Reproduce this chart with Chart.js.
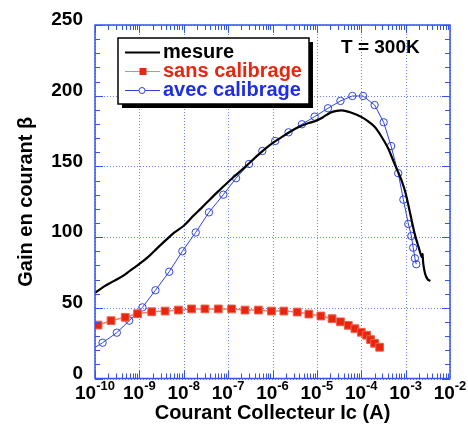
<!DOCTYPE html>
<html>
<head>
<meta charset="utf-8">
<script src="https://cdn.jsdelivr.net/npm/chart.js@4"></script>
<style>
  html, body { margin:0; padding:0; background:#fff; }
  #wrap { width:468px; height:425px; position:relative; }
</style>
</head>
<body>
<div id="wrap"><canvas id="c" width="468" height="425"></canvas></div>
<script>
// ---- data ----
const xTickExponents = [-10, -9, -8, -7, -6, -5, -4, -3, -2];
const yTicks = [0, 50, 100, 150, 200, 250];

const mesureI = [1.0e-10, 1.58e-10, 2.5e-10, 4.0e-10, 6.3e-10, 1.0e-9, 1.58e-9, 2.5e-9, 4.0e-9, 6.3e-9,
  1.0e-8, 1.58e-8, 2.5e-8, 4.0e-8, 6.3e-8, 1.0e-7, 1.58e-7, 2.5e-7, 4.0e-7, 6.3e-7,
  1.0e-6, 1.58e-6, 2.5e-6, 4.0e-6, 6.3e-6, 1.0e-5, 1.41e-5, 2.0e-5, 2.8e-5, 4.0e-5,
  5.6e-5, 7.9e-5, 1.0e-4, 1.41e-4, 2.0e-4, 2.8e-4, 4.0e-4, 5.6e-4, 7.9e-4, 1.0e-3,
  1.26e-3, 1.58e-3, 2.0e-3, 2.3e-3, 2.4e-3, 2.5e-3, 2.75e-3, 3.16e-3, 3.6e-3];
const mesureGain = [60.5, 65, 68.5, 72, 76.5, 81, 86, 92, 98, 103.5,
  108, 114.5, 120.5, 127, 133, 139, 144.5, 150, 156, 161.5,
  166.5, 170.5, 174.5, 178, 180.5, 182.5, 185, 188, 189.3, 189.5,
  188.3, 186.5, 185, 182, 178, 171.5, 163, 152, 141, 131,
  117, 103, 92, 86, 88, 81, 74, 70, 69];

const sansI = [1.17e-10, 2.3e-10, 4.8e-10, 9.1e-10, 1.9e-9, 3.8e-9, 7.6e-9, 1.5e-8, 3.0e-8, 6.0e-8,
  1.2e-7, 2.4e-7, 4.8e-7, 9.5e-7, 1.8e-6, 3.6e-6, 6.6e-6, 1.23e-5, 2.2e-5, 3.4e-5,
  5.1e-5, 7.2e-5, 1.0e-4, 1.32e-4, 1.62e-4, 2.0e-4, 2.6e-4];
const sansGain = [37.8, 40.9, 43.3, 45.8, 47.2, 47.7, 48.4, 49.2, 49.2, 49.2,
  49.2, 48.4, 48.4, 47.7, 47.7, 47.0, 45.6, 44.2, 42.3, 40.1,
  37.6, 35.2, 32.7, 30.6, 27.5, 24.9, 22.1];

const avecI = [1.0e-10, 1.48e-10, 3.1e-10, 5.9e-10, 1.17e-9, 2.3e-9, 4.7e-9, 9.3e-9, 1.86e-8, 3.7e-8,
  7.8e-8, 1.51e-7, 2.95e-7, 5.9e-7, 1.15e-6, 2.3e-6, 4.6e-6, 8.9e-6, 1.78e-5, 3.4e-5,
  6.3e-5, 1.1e-4, 2.0e-4, 3.2e-4, 4.7e-4, 6.8e-4, 8.9e-4, 1.15e-3, 1.35e-3, 1.48e-3,
  1.62e-3, 1.74e-3];
const avecGain = [22, 25.3, 32.4, 40.9, 50.3, 62.4, 75.5, 90, 103.3, 117.5,
  130, 141.7, 151.7, 160.9, 168, 174.1, 179.8, 185.2, 191.1, 196.3,
  199.8, 199.8, 193.4, 181.2, 164.4, 145.2, 126.5, 109.3, 100.8, 92.5,
  85.0, 80.8];

const seriesLabels = ['mesure', 'sans calibrage', 'avec calibrage'];
const annotationText = 'T = 300K';

// ---- styles ----
const FONT = '"Liberation Sans", Arial, Helvetica, sans-serif';
const BLUE_AXIS = '#3553ee';
const BLUE_GRID = '#6a84f2';
const RED = '#e8260f';
const RED_LINE = '#f2806c';
const BLUE = '#2f42e6';
const BLUE_TEXT = '#1d2fe0';

const zip = (xs, ys) => xs.map((x, i) => ({ x, y: ys[i] }));

const framePlugin = {
  id: 'frame',
  beforeDatasetsDraw(chart) {
    const { ctx, chartArea: a, scales: { x, y } } = chart;
    ctx.save();
    ctx.strokeStyle = BLUE_GRID;
    ctx.lineWidth = 1;
    ctx.setLineDash([1, 2]);
    xTickExponents.forEach(e => {
      const px = Math.round(x.getPixelForValue(Math.pow(10, e))) + 0.5;
      ctx.beginPath(); ctx.moveTo(px, a.top); ctx.lineTo(px, a.bottom); ctx.stroke();
    });
    yTicks.forEach(v => {
      const py = Math.round(y.getPixelForValue(v)) + 0.5;
      ctx.beginPath(); ctx.moveTo(a.left, py); ctx.lineTo(a.right, py); ctx.stroke();
    });
    ctx.restore();
  },
  afterDraw(chart) {
    const { ctx, chartArea: a, scales: { x, y } } = chart;
    ctx.save();
    // border
    ctx.strokeStyle = BLUE_AXIS;
    ctx.lineWidth = 1.5;
    ctx.strokeRect(a.left, a.top, a.right - a.left, a.bottom - a.top);
    // ticks
    ctx.lineWidth = 1;
    const minor = 5, major = 8;
    for (let e = -10; e < -2; e++) {
      for (let k = 1; k <= 9; k++) {
        const px = Math.round(x.getPixelForValue(k * Math.pow(10, e))) + 0.5;
        const len = k === 1 ? major : minor;
        ctx.beginPath();
        ctx.moveTo(px, a.bottom); ctx.lineTo(px, a.bottom - len);
        ctx.moveTo(px, a.top); ctx.lineTo(px, a.top + len);
        ctx.stroke();
      }
    }
    for (let v = 0; v <= 250; v += 10) {
      const py = Math.round(y.getPixelForValue(v)) + 0.5;
      const len = v % 50 === 0 ? major : minor;
      ctx.beginPath();
      ctx.moveTo(a.left, py); ctx.lineTo(a.left + len, py);
      ctx.moveTo(a.right, py); ctx.lineTo(a.right - len, py);
      ctx.stroke();
    }
    // x tick labels 10^n
    ctx.fillStyle = '#000';
    ctx.textBaseline = 'alphabetic';
    ctx.textAlign = 'left';
    const baseFont = 'bold 19px ' + FONT, supFont = 'bold 13px ' + FONT;
    xTickExponents.forEach(e => {
      const px = x.getPixelForValue(Math.pow(10, e));
      const sup = '-' + Math.abs(e);
      ctx.font = baseFont; const w1 = ctx.measureText('10').width;
      ctx.font = supFont; const w2 = ctx.measureText(sup).width;
      const sx = px - (w1 + w2) / 2;
      ctx.font = baseFont; ctx.fillText('10', sx, a.bottom + 20.5);
      ctx.font = supFont; ctx.fillText(sup, sx + w1, a.bottom + 11);
    });
    // annotation
    ctx.font = 'bold 19px ' + FONT;
    ctx.fillText(annotationText, 341, 53);
    // legend
    const L = 118, T = 38, W = 191, H = 66;
    ctx.fillStyle = '#000';
    ctx.fillRect(L + 4, T + 4, W, H);
    ctx.fillStyle = '#fff';
    ctx.fillRect(L, T, W, H);
    ctx.strokeStyle = '#000';
    ctx.lineWidth = 1.5;
    ctx.strokeRect(L, T, W, H);
    const rows = [52.5, 71.5, 90.5];
    const ds = chart.data.datasets;
    ds.forEach((d, i) => {
      const ry = rows[i];
      ctx.strokeStyle = d.borderColor;
      ctx.lineWidth = i === 0 ? 2 : 1;
      ctx.beginPath(); ctx.moveTo(125, ry); ctx.lineTo(160, ry); ctx.stroke();
      if (i === 1) {
        ctx.fillStyle = RED;
        ctx.fillRect(139.5, ry - 3.5, 7, 7);
      } else if (i === 2) {
        ctx.fillStyle = '#fff';
        ctx.beginPath(); ctx.arc(142, ry, 3, 0, Math.PI * 2); ctx.fill(); ctx.stroke();
      }
      ctx.fillStyle = i === 0 ? '#000' : (i === 1 ? RED : BLUE_TEXT);
      ctx.font = 'bold 20px ' + FONT;
      ctx.fillText(d.label, 163, ry + 5);
    });
    ctx.restore();
  }
};

new Chart(document.getElementById('c'), {
  type: 'line',
  data: {
    datasets: [
      {
        label: seriesLabels[0],
        data: zip(mesureI, mesureGain),
        borderColor: '#000',
        borderWidth: 2.2,
        pointRadius: 0,
        tension: 0.3,
        fill: false
      },
      {
        label: seriesLabels[1],
        data: zip(sansI, sansGain),
        borderColor: RED_LINE,
        borderWidth: 1.5,
        pointStyle: 'rect',
        pointRadius: 5.5,
        pointBackgroundColor: RED,
        pointBorderColor: '#f0604a',
        pointBorderWidth: 1,
        tension: 0,
        fill: false
      },
      {
        label: seriesLabels[2],
        data: zip(avecI, avecGain),
        borderColor: BLUE,
        borderWidth: 1,
        pointStyle: 'circle',
        pointRadius: avecI.map((v, i) => i === 0 ? 0 : 3.7),
        pointBackgroundColor: 'rgba(255,255,255,0)',
        pointBorderColor: BLUE,
        pointBorderWidth: 1,
        tension: 0,
        fill: false
      }
    ]
  },
  options: {
    responsive: false,
    animation: false,
    events: [],
    layout: { padding: { top: 25, right: 18, left: 0, bottom: 0 } },
    plugins: { legend: { display: false }, tooltip: { enabled: false } },
    scales: {
      x: {
        type: 'logarithmic',
        min: 1e-10,
        max: 1e-2,
        afterBuildTicks: s => { s.ticks = xTickExponents.map(e => ({ value: Math.pow(10, e) })); },
        afterFit: s => { s.height = 46.5; },
        grid: { display: false },
        border: { display: false },
        ticks: { display: false },
        title: {
          display: true,
          text: 'Courant Collecteur Ic (A)',
          color: '#000',
          font: { family: FONT, size: 20, weight: 'bold' },
          padding: { top: -2, bottom: 0 }
        }
      },
      y: {
        min: 0,
        max: 250,
        afterBuildTicks: s => { s.ticks = yTicks.map(v => ({ value: v })); },
        afterFit: s => { s.width = 95; },
        grid: { display: false, drawTicks: false },
        border: { display: false },
        ticks: {
          color: '#000',
          font: { family: FONT, size: 19, weight: 'bold' },
          padding: 12,
          labelOffset: -5
        },
        title: {
          display: true,
          text: 'Gain en courant β',
          color: '#000',
          font: { family: FONT, size: 20, weight: 'bold' },
          padding: { top: 14, bottom: 0 }
        }
      }
    }
  },
  plugins: [framePlugin]
});
</script>
</body>
</html>
